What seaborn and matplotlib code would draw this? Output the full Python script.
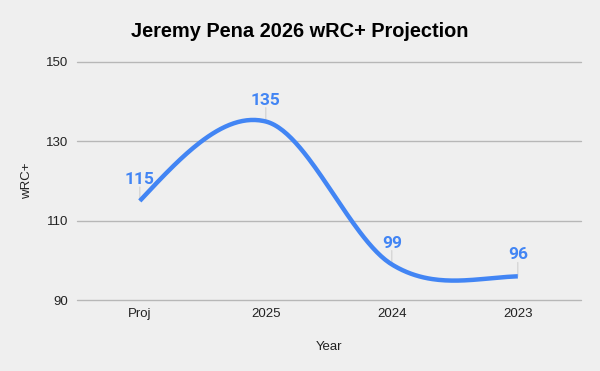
import numpy as np
import pandas as pd
import matplotlib
matplotlib.use("Agg")
import matplotlib.pyplot as plt
import seaborn as sns

categories = ["Proj", "2025", "2024", "2023"]
wrc_values = [115, 135, 99, 96]
y_ticks = [90, 110, 130, 150]

sns.set_theme(style="white")
plt.rcParams["font.family"] = ["Liberation Sans", "DejaVu Sans"]

BG = "#efefef"
BLUE = "#4285f4"

fig = plt.figure(figsize=(6.0, 3.71), dpi=100, facecolor=BG)
ax = fig.add_axes([0.128, 0.191, 0.84, 0.642], facecolor=BG)

# Smooth-line rendering (Catmull-Rom interior tangents, relaxed ends)
x = np.arange(len(wrc_values), dtype=float)
y = np.array(wrc_values, dtype=float)
m = np.zeros_like(y)
for i in range(1, len(y) - 1):
    m[i] = (y[i + 1] - y[i - 1]) / 2
m[0] = (3 * (y[1] - y[0]) - m[1]) / 2
m[-1] = ((3 * (y[-1] - y[-2]) - m[-2]) / 2 + (y[-1] - y[-2])) / 2
xs, ys = [], []
for i in range(len(y) - 1):
    t = np.linspace(0, 1, 60)
    h00 = 2 * t**3 - 3 * t**2 + 1
    h10 = t**3 - 2 * t**2 + t
    h01 = -2 * t**3 + 3 * t**2
    h11 = t**3 - t**2
    xs.extend(x[i] + t)
    ys.extend(h00 * y[i] + h10 * m[i] + h01 * y[i + 1] + h11 * m[i + 1])
curve = pd.DataFrame({"pos": xs, "val": ys})

for yt in y_ticks:
    ax.axhline(yt, color="#b7b7b7", lw=1.0, zorder=1, clip_on=False)

sns.lineplot(data=curve, x="pos", y="val", ax=ax, color=BLUE, lw=3.2,
             sort=False, zorder=3, solid_capstyle="butt")

for xi, v in zip(x, wrc_values):
    ax.annotate(str(v), xy=(xi, v), xytext=(0, 10), textcoords="offset points",
                ha="center", va="bottom", color=BLUE, fontsize=12.5,
                fontweight="bold", family=["Roboto", "DejaVu Sans"], zorder=4)
    ax.annotate("", xy=(xi, v), xytext=(0, 10), textcoords="offset points",
                arrowprops=dict(arrowstyle="-", color="#d0d0d0", lw=0.8,
                                shrinkA=0, shrinkB=0), zorder=2)

ax.set_xlim(-0.5, len(categories) - 0.5)
ax.set_ylim(90, 150)
ax.set_yticks(y_ticks)
ax.set_xticks(x)
ax.set_xticklabels(categories)
ax.tick_params(axis="both", length=0, labelsize=9.5, colors="#222222")
ax.tick_params(axis="x", pad=6)
ax.tick_params(axis="y", pad=6)
for s in ax.spines.values():
    s.set_visible(False)

ax.set_xlabel("Year", fontsize=9.5, color="#222222", labelpad=15)
ax.set_ylabel("wRC+", fontsize=9.5, color="#222222", labelpad=16)
ax.yaxis.set_label_coords(-0.087, 0.5)

fig.text(0.5, 0.915, "Jeremy Pena 2026 wRC+ Projection", ha="center", va="center",
         fontsize=14.4, fontweight="bold", color="#000000")

fig.savefig("out.png", dpi=100, facecolor=BG)
